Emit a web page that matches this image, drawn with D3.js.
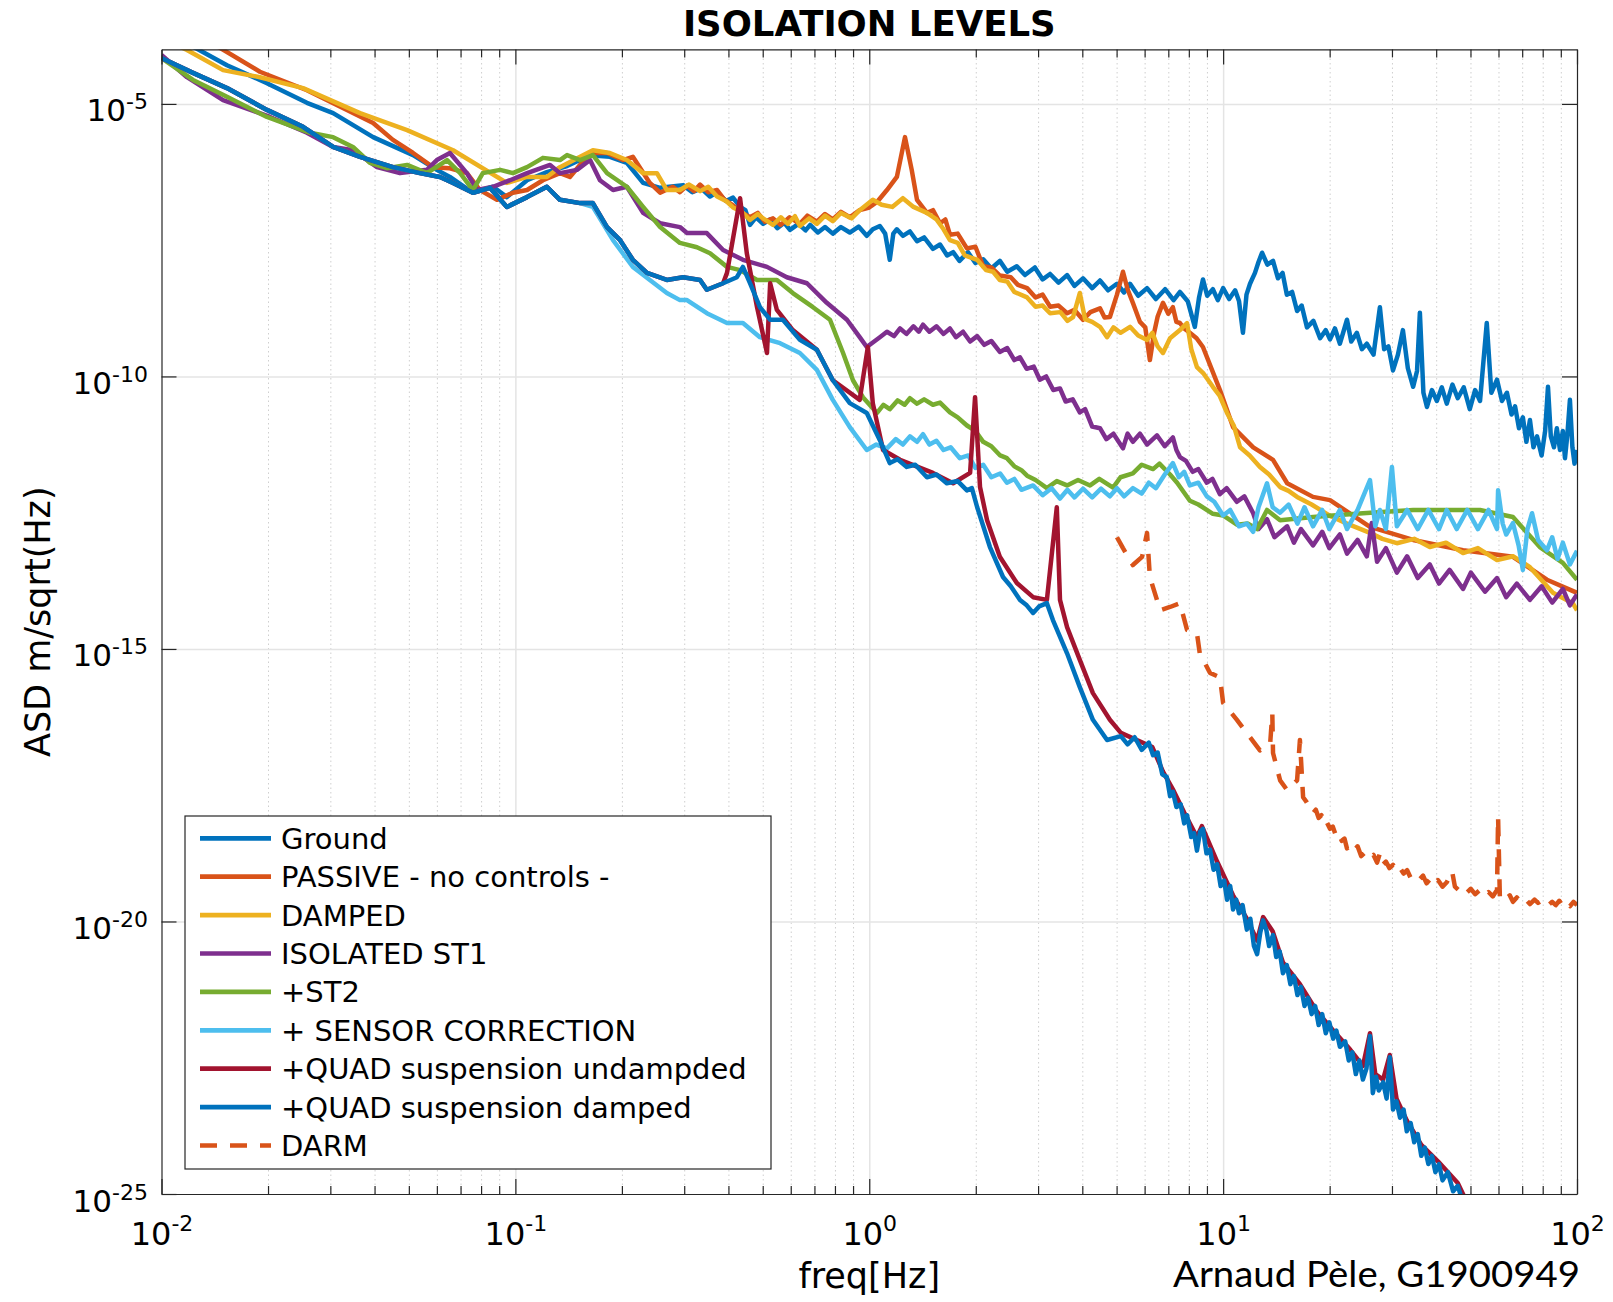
<!DOCTYPE html>
<html>
<head>
<meta charset="utf-8">
<script src="https://cdn.jsdelivr.net/npm/d3@7"></script>
<style>
  body { margin: 0; background: #fff; }
  svg { display: block; }
  text { font-family: "DejaVu Sans", sans-serif; fill: #000; }
</style>
</head>
<body>
<div id="chart"></div>
<script>
// every point is [log10 f (Hz), log10 ASD (m/sqrt(Hz))]

const ground = [
  [-2.0,-3.64],[-1.905,-3.97],[-1.815,-4.29],[-1.702,-4.62],[-1.589,-4.98],[-1.515,-5.17],[-1.402,-5.61],
  [-1.289,-5.94],[-1.222,-6.21],[-1.185,-6.34],[-1.120,-6.63],[-1.063,-6.52],[-1.024,-6.71],[-0.967,-6.40],
  [-0.911,-6.25],[-0.854,-6.14],[-0.789,-5.94],[-0.733,-5.97],[-0.685,-6.08],[-0.639,-6.45],[-0.591,-6.54],
  [-0.526,-6.49],[-0.50,-6.62],[-0.475,-6.55],[-0.45,-6.70],[-0.43,-6.62],[-0.405,-6.78],[-0.385,-6.72],
  [-0.365,-6.89],[-0.35,-6.95],[-0.337,-7.22],[-0.32,-7.08],[-0.30,-7.20],[-0.28,-7.12],[-0.26,-7.28],
  [-0.24,-7.18],[-0.224,-7.31],[-0.20,-7.20],[-0.18,-7.32],[-0.167,-7.22],[-0.145,-7.36],[-0.125,-7.26],
  [-0.103,-7.38],[-0.08,-7.26],[-0.055,-7.36],[-0.03,-7.25],[-0.007,-7.42],[0.01,-7.30],[0.030,-7.24],
  [0.045,-7.38],[0.058,-7.86],[0.068,-7.38],[0.078,-7.30],[0.095,-7.42],[0.115,-7.34],[0.135,-7.52],
  [0.155,-7.45],[0.180,-7.66],[0.20,-7.58],[0.22,-7.78],[0.237,-7.72],[0.255,-7.88],[0.279,-7.72],
  [0.30,-7.92],[0.322,-7.85],[0.345,-8.02],[0.369,-7.88],[0.39,-8.08],[0.417,-7.98],[0.44,-8.14],
  [0.468,-8.00],[0.49,-8.22],[0.511,-8.12],[0.535,-8.28],[0.559,-8.14],[0.58,-8.34],[0.604,-8.20],
  [0.63,-8.38],[0.652,-8.24],[0.675,-8.42],[0.700,-8.30],[0.72,-8.46],[0.737,-8.30],[0.76,-8.52],
  [0.785,-8.38],[0.81,-8.58],[0.836,-8.40],[0.86,-8.60],[0.878,-8.45],[0.90,-8.62],[0.920,-9.09],
  [0.932,-8.55],[0.943,-8.22],[0.955,-8.52],[0.971,-8.40],[0.985,-8.60],[1.0,-8.38],[1.017,-8.58],
  [1.034,-8.42],[1.045,-8.62],[1.056,-9.20],[1.066,-8.50],[1.076,-8.30],[1.09,-8.10],[1.100,-7.90],
  [1.110,-7.73],[1.125,-7.95],[1.141,-7.88],[1.155,-8.20],[1.168,-8.10],[1.180,-8.50],[1.195,-8.45],
  [1.209,-8.80],[1.222,-8.70],[1.237,-9.10],[1.255,-8.98],[1.274,-9.30],[1.29,-9.15],[1.302,-9.32],
  [1.316,-9.12],[1.330,-9.40],[1.350,-8.96],[1.362,-9.36],[1.378,-9.20],[1.392,-9.50],[1.406,-9.40],
  [1.425,-9.60],[1.443,-8.73],[1.455,-9.50],[1.467,-9.45],[1.480,-9.89],[1.494,-9.60],[1.508,-9.15],
  [1.522,-9.85],[1.537,-10.19],[1.548,-9.90],[1.556,-8.83],[1.566,-10.30],[1.576,-10.56],[1.59,-10.25],
  [1.604,-10.45],[1.618,-10.20],[1.632,-10.50],[1.648,-10.15],[1.663,-10.40],[1.68,-10.20],[1.697,-10.60],
  [1.712,-10.25],[1.726,-10.45],[1.745,-9.02],[1.758,-10.30],[1.774,-10.06],[1.788,-10.45],[1.802,-10.30],
  [1.815,-10.70],[1.825,-10.55],[1.836,-10.95],[1.847,-10.75],[1.857,-11.20],[1.867,-10.80],[1.877,-11.30],
  [1.887,-11.10],[1.900,-11.45],[1.910,-11.00],[1.918,-10.19],[1.926,-11.10],[1.935,-11.30],[1.943,-10.95],
  [1.952,-11.35],[1.960,-11.00],[1.966,-11.50],[1.973,-11.05],[1.980,-10.43],[1.987,-11.30],[1.993,-11.60],
  [2.0,-11.35]
];

const passive = [
  [-2.0,-3.50],[-1.835,-3.97],[-1.722,-4.41],[-1.589,-4.75],[-1.476,-5.11],[-1.402,-5.35],[-1.346,-5.66],
  [-1.289,-5.90],[-1.233,-6.16],[-1.185,-6.18],[-1.137,-6.27],[-1.100,-6.58],[-1.052,-6.76],[-1.007,-6.63],
  [-0.967,-6.58],[-0.922,-6.40],[-0.874,-6.27],[-0.846,-6.34],[-0.789,-5.90],[-0.741,-5.90],[-0.696,-6.03],
  [-0.668,-5.97],[-0.620,-6.45],[-0.591,-6.63],[-0.555,-6.52],[-0.535,-6.62],[-0.515,-6.50],[-0.495,-6.60],
  [-0.478,-6.48],[-0.455,-6.62],[-0.430,-6.58],[-0.41,-6.75],[-0.385,-6.86],[-0.365,-6.98],[-0.337,-7.08],
  [-0.315,-7.00],[-0.295,-7.16],[-0.272,-7.10],[-0.25,-7.22],[-0.225,-7.08],[-0.196,-7.20],[-0.175,-7.05],
  [-0.148,-7.16],[-0.125,-7.02],[-0.103,-7.12],[-0.08,-6.98],[-0.055,-7.08],[-0.027,-6.95],[0.0,-6.90],
  [0.022,-6.80],[0.050,-6.58],[0.078,-6.34],[0.101,-5.61],[0.120,-6.21],[0.135,-6.76],[0.163,-7.00],
  [0.18,-6.95],[0.200,-7.19],[0.215,-7.12],[0.228,-7.40],[0.25,-7.38],[0.276,-7.65],[0.30,-7.62],
  [0.322,-7.98],[0.345,-8.00],[0.369,-8.15],[0.40,-8.18],[0.42,-8.32],[0.446,-8.38],[0.47,-8.55],
  [0.49,-8.50],[0.511,-8.72],[0.535,-8.70],[0.559,-8.84],[0.58,-8.78],[0.604,-8.96],[0.625,-8.82],
  [0.652,-8.75],[0.665,-8.92],[0.680,-8.91],[0.70,-8.50],[0.717,-8.08],[0.73,-8.40],[0.745,-8.65],
  [0.765,-9.00],[0.78,-9.10],[0.793,-9.70],[0.805,-9.20],[0.815,-8.90],[0.830,-8.65],[0.845,-8.85],
  [0.858,-8.73],[0.868,-9.00],[0.878,-9.02],[0.89,-9.12],[0.906,-9.20],[0.925,-9.30],[0.943,-9.46],
  [0.991,-10.25],[1.028,-10.93],[1.085,-11.30],[1.141,-11.53],[1.181,-11.96],[1.254,-12.21],[1.302,-12.27],
  [1.415,-12.76],[1.537,-13.00],[1.678,-13.19],[1.819,-13.31],[1.915,-13.73],[2.0,-13.97]
];

const damped = [
  [-2.0,-3.79],[-1.928,-4.01],[-1.826,-4.38],[-1.722,-4.51],[-1.600,-4.71],[-1.439,-5.17],[-1.306,-5.48],
  [-1.176,-5.85],[-1.024,-6.45],[-0.967,-6.34],[-0.911,-6.34],[-0.874,-6.16],[-0.817,-5.97],[-0.781,-5.85],
  [-0.733,-5.90],[-0.685,-6.03],[-0.639,-6.27],[-0.600,-6.27],[-0.572,-6.58],[-0.535,-6.58],[-0.51,-6.48],
  [-0.478,-6.60],[-0.455,-6.52],[-0.430,-6.70],[-0.405,-6.78],[-0.385,-6.90],[-0.36,-6.98],[-0.337,-7.13],
  [-0.315,-7.02],[-0.300,-7.10],[-0.272,-7.22],[-0.25,-7.08],[-0.230,-7.20],[-0.21,-7.06],[-0.196,-7.24],
  [-0.17,-7.10],[-0.148,-7.20],[-0.125,-7.05],[-0.103,-7.15],[-0.08,-7.00],[-0.050,-7.10],[-0.027,-6.95],
  [0.010,-6.76],[0.035,-6.85],[0.065,-6.89],[0.095,-6.73],[0.125,-6.89],[0.163,-7.00],[0.19,-7.12],
  [0.21,-7.30],[0.228,-7.50],[0.25,-7.55],[0.27,-7.78],[0.305,-7.86],[0.33,-8.05],[0.35,-8.08],
  [0.369,-8.23],[0.39,-8.26],[0.41,-8.45],[0.446,-8.55],[0.47,-8.72],[0.49,-8.70],[0.511,-8.84],
  [0.54,-8.82],[0.56,-8.98],[0.576,-8.91],[0.595,-8.47],[0.61,-8.95],[0.63,-9.00],[0.652,-9.09],
  [0.672,-9.28],[0.69,-9.10],[0.71,-9.20],[0.737,-9.09],[0.76,-9.25],[0.785,-9.33],[0.80,-9.20],
  [0.815,-9.45],[0.830,-9.57],[0.85,-9.30],[0.878,-9.15],[0.898,-9.02],[0.91,-9.50],[0.926,-9.83],
  [0.945,-9.95],[0.971,-10.19],[0.99,-10.35],[1.011,-10.67],[1.03,-10.90],[1.048,-11.30],[1.075,-11.45],
  [1.104,-11.66],[1.13,-11.80],[1.161,-12.03],[1.185,-12.10],[1.209,-12.21],[1.25,-12.35],[1.300,-12.55],
  [1.35,-12.70],[1.415,-12.87],[1.45,-12.98],[1.491,-13.06],[1.54,-12.98],[1.584,-13.13],[1.63,-13.05],
  [1.678,-13.24],[1.72,-13.15],[1.774,-13.37],[1.82,-13.30],[1.867,-13.50],[1.932,-13.97],[1.988,-14.16],
  [2.0,-14.29]
];

const isolated = [
  [-2.0,-4.10],[-1.928,-4.51],[-1.826,-4.93],[-1.693,-5.24],[-1.589,-5.53],[-1.515,-5.79],[-1.459,-5.85],
  [-1.391,-6.16],[-1.326,-6.27],[-1.250,-6.21],[-1.222,-6.03],[-1.185,-5.90],[-1.137,-6.27],[-1.108,-6.58],
  [-1.063,-6.52],[-1.015,-6.40],[-0.967,-6.27],[-0.902,-6.12],[-0.874,-6.27],[-0.826,-6.21],[-0.789,-6.03],
  [-0.761,-6.40],[-0.724,-6.58],[-0.685,-6.52],[-0.639,-7.00],[-0.591,-7.19],[-0.535,-7.26],[-0.515,-7.37],
  [-0.459,-7.37],[-0.413,-7.68],[-0.357,-7.86],[-0.289,-7.99],[-0.233,-8.18],[-0.176,-8.29],[-0.120,-8.65],
  [-0.063,-8.96],[-0.027,-9.28],[-0.007,-9.46],[0.030,-9.28],[0.05,-9.18],[0.07,-9.26],[0.087,-9.12],
  [0.105,-9.22],[0.125,-9.08],[0.14,-9.18],[0.152,-9.05],[0.17,-9.18],[0.19,-9.08],[0.21,-9.22],
  [0.228,-9.12],[0.245,-9.28],[0.265,-9.18],[0.285,-9.36],[0.305,-9.26],[0.325,-9.42],[0.345,-9.35],
  [0.369,-9.55],[0.39,-9.48],[0.41,-9.70],[0.426,-9.65],[0.445,-9.86],[0.465,-9.82],[0.482,-10.06],
  [0.50,-10.00],[0.52,-10.25],[0.539,-10.22],[0.555,-10.46],[0.575,-10.42],[0.595,-10.66],[0.61,-10.60],
  [0.63,-10.92],[0.652,-10.95],[0.67,-11.15],[0.69,-11.05],[0.717,-11.32],[0.73,-11.05],[0.745,-11.20],
  [0.765,-11.05],[0.785,-11.25],[0.813,-11.08],[0.835,-11.28],[0.858,-11.12],[0.868,-11.35],[0.878,-11.48],
  [0.895,-11.55],[0.914,-11.75],[0.93,-11.70],[0.954,-11.95],[0.97,-11.88],[0.991,-12.16],[1.01,-12.05],
  [1.039,-12.30],[1.06,-12.20],[1.085,-12.51],[1.10,-12.80],[1.124,-12.62],[1.145,-12.95],[1.181,-12.75],
  [1.20,-13.05],[1.22,-12.80],[1.254,-13.10],[1.28,-12.85],[1.30,-13.15],[1.33,-12.90],[1.350,-13.25],
  [1.38,-13.00],[1.406,-13.30],[1.420,-12.69],[1.435,-13.40],[1.46,-13.15],[1.491,-13.60],[1.52,-13.30],
  [1.55,-13.70],[1.584,-13.45],[1.61,-13.80],[1.64,-13.55],[1.678,-13.90],[1.70,-13.60],[1.74,-13.95],
  [1.774,-13.70],[1.80,-14.05],[1.83,-13.80],[1.867,-14.10],[1.90,-13.85],[1.93,-14.15],[1.960,-13.90],
  [1.98,-14.20],[2.0,-14.0]
];

const st2 = [
  [-2.0,-4.16],[-1.911,-4.56],[-1.815,-4.87],[-1.702,-5.24],[-1.580,-5.53],[-1.515,-5.61],[-1.459,-5.79],
  [-1.411,-6.08],[-1.363,-6.18],[-1.306,-6.12],[-1.250,-6.27],[-1.193,-6.03],[-1.156,-6.27],[-1.120,-6.58],
  [-1.092,-6.27],[-1.043,-6.21],[-1.007,-6.27],[-0.967,-6.16],[-0.922,-5.99],[-0.874,-6.03],[-0.854,-5.94],
  [-0.817,-6.03],[-0.781,-5.94],[-0.741,-6.27],[-0.685,-6.52],[-0.639,-6.89],[-0.591,-7.26],[-0.535,-7.55],
  [-0.487,-7.63],[-0.450,-7.74],[-0.402,-7.99],[-0.365,-8.05],[-0.317,-8.23],[-0.261,-8.23],[-0.216,-8.47],
  [-0.159,-8.73],[-0.111,-8.96],[-0.074,-9.57],[-0.046,-10.07],[-0.018,-10.38],[0.022,-10.67],[0.04,-10.52],
  [0.058,-10.60],[0.08,-10.44],[0.10,-10.52],[0.115,-10.40],[0.135,-10.50],[0.155,-10.42],[0.180,-10.52],
  [0.20,-10.48],[0.228,-10.66],[0.25,-10.75],[0.276,-10.90],[0.30,-11.00],[0.322,-11.20],[0.345,-11.28],
  [0.37,-11.45],[0.389,-11.50],[0.41,-11.65],[0.43,-11.72],[0.446,-11.82],[0.47,-11.90],[0.502,-12.05],
  [0.53,-11.92],[0.559,-12.00],[0.59,-11.90],[0.624,-12.00],[0.65,-11.88],[0.689,-12.04],[0.71,-11.85],
  [0.745,-11.78],[0.77,-11.62],[0.802,-11.70],[0.82,-11.60],[0.850,-11.80],[0.87,-11.95],[0.906,-12.28],
  [0.93,-12.35],[0.971,-12.52],[1.00,-12.55],[1.039,-12.72],[1.07,-12.70],[1.096,-12.80],[1.124,-12.45],
  [1.161,-12.64],[1.254,-12.58],[1.395,-12.51],[1.537,-12.45],[1.726,-12.45],[1.819,-12.58],[1.895,-13.13],
  [1.960,-13.42],[2.0,-13.73]
];

const sensor = [
  [-2.0,-4.16],[-1.911,-4.43],[-1.815,-4.71],[-1.702,-5.11],[-1.600,-5.42],[-1.515,-5.79],[-1.439,-5.97],
  [-1.346,-6.16],[-1.270,-6.27],[-1.213,-6.34],[-1.176,-6.45],[-1.120,-6.63],[-1.072,-6.54],[-1.024,-6.89],
  [-0.967,-6.71],[-0.911,-6.52],[-0.874,-6.76],[-0.817,-6.82],[-0.781,-6.89],[-0.724,-7.50],[-0.668,-7.99],
  [-0.620,-8.23],[-0.572,-8.47],[-0.535,-8.60],[-0.515,-8.60],[-0.459,-8.84],[-0.402,-9.02],[-0.357,-9.02],
  [-0.309,-9.28],[-0.252,-9.39],[-0.196,-9.57],[-0.148,-9.88],[-0.103,-10.43],[-0.055,-10.93],[-0.007,-11.35],
  [0.02,-11.25],[0.050,-11.32],[0.075,-11.15],[0.095,-11.25],[0.115,-11.10],[0.135,-11.20],[0.152,-11.06],
  [0.17,-11.25],[0.19,-11.18],[0.21,-11.35],[0.23,-11.30],[0.256,-11.50],[0.28,-11.45],[0.30,-11.68],
  [0.322,-11.62],[0.345,-11.85],[0.37,-11.78],[0.389,-11.95],[0.41,-11.88],[0.43,-12.08],[0.463,-12.00],
  [0.49,-12.18],[0.515,-12.05],[0.539,-12.24],[0.56,-12.08],[0.58,-12.22],[0.604,-12.06],[0.63,-12.22],
  [0.655,-12.06],[0.680,-12.20],[0.70,-12.05],[0.72,-12.20],[0.745,-12.05],[0.77,-12.15],[0.79,-11.95],
  [0.81,-12.05],[0.835,-11.80],[0.858,-11.59],[0.875,-11.85],[0.89,-11.75],[0.906,-12.00],[0.93,-11.95],
  [0.954,-12.20],[0.975,-12.30],[1.000,-12.55],[1.02,-12.45],[1.045,-12.75],[1.067,-12.70],[1.085,-12.85],
  [1.10,-12.40],[1.124,-11.96],[1.14,-12.40],[1.161,-12.50],[1.185,-12.35],[1.21,-12.70],[1.23,-12.40],
  [1.254,-12.75],[1.28,-12.45],[1.30,-12.80],[1.33,-12.45],[1.350,-12.80],[1.38,-12.45],[1.415,-11.90],
  [1.43,-12.75],[1.443,-12.45],[1.46,-12.80],[1.477,-11.66],[1.491,-12.75],[1.52,-12.45],[1.55,-12.80],
  [1.58,-12.45],[1.61,-12.80],[1.632,-12.45],[1.66,-12.80],[1.69,-12.45],[1.72,-12.80],[1.75,-12.45],
  [1.774,-12.80],[1.777,-12.09],[1.79,-12.70],[1.80,-12.90],[1.819,-12.69],[1.835,-13.10],[1.847,-13.55],
  [1.860,-12.80],[1.873,-12.51],[1.89,-13.00],[1.915,-13.19],[1.93,-12.95],[1.945,-13.35],[1.960,-13.05],
  [1.98,-13.45],[2.0,-13.2]
];

const quadUndamped = [
  [-2.0,-4.16],[-1.911,-4.43],[-1.815,-4.71],[-1.702,-5.11],[-1.600,-5.42],[-1.515,-5.79],[-1.439,-5.97],
  [-1.346,-6.16],[-1.270,-6.27],[-1.213,-6.34],[-1.176,-6.45],[-1.120,-6.63],[-1.072,-6.54],[-1.024,-6.89],
  [-0.967,-6.71],[-0.911,-6.52],[-0.874,-6.76],[-0.817,-6.82],[-0.781,-6.82],[-0.741,-7.26],[-0.704,-7.50],
  [-0.668,-7.86],[-0.628,-8.10],[-0.572,-8.23],[-0.526,-8.18],[-0.478,-8.23],[-0.459,-8.41],[-0.413,-8.29],
  [-0.402,-8.10],[-0.365,-6.73],[-0.346,-7.74],[-0.317,-8.73],[-0.289,-9.57],[-0.280,-8.29],[-0.261,-8.78],
  [-0.216,-9.15],[-0.148,-9.51],[-0.103,-10.07],[-0.027,-10.43],[-0.004,-9.46],[0.010,-10.49],[0.039,-11.35],
  [0.087,-11.53],[0.180,-11.77],[0.237,-11.96],[0.285,-11.77],[0.299,-10.38],[0.313,-12.03],[0.333,-12.64],
  [0.369,-13.31],[0.417,-13.79],[0.463,-14.05],[0.502,-14.10],[0.530,-12.40],[0.539,-14.10],[0.559,-14.60],
  [0.595,-15.20],[0.632,-15.81],[0.680,-16.30],[0.711,-16.54],[0.80,-16.80],[0.83,-17.25],[0.86,-17.60],
  [0.89,-18.00],[0.926,-18.45],[0.94,-18.25],[0.983,-18.90],[1.028,-19.52],[1.067,-19.95],[1.096,-20.35],
  [1.113,-19.92],[1.14,-20.18],[1.169,-20.75],[1.217,-21.15],[1.265,-21.65],[1.311,-22.00],[1.359,-22.35],
  [1.395,-22.65],[1.415,-22.05],[1.43,-22.80],[1.452,-22.90],[1.471,-22.45],[1.49,-23.25],[1.519,-23.65],
  [1.56,-24.10],[1.607,-24.40],[1.663,-24.80],[1.70,-25.3]
];

const quadDamped = [
  [-2.0,-4.16],[-1.911,-4.43],[-1.815,-4.71],[-1.702,-5.11],[-1.600,-5.42],[-1.515,-5.79],[-1.439,-5.97],
  [-1.346,-6.16],[-1.270,-6.27],[-1.213,-6.34],[-1.176,-6.45],[-1.120,-6.63],[-1.072,-6.54],[-1.024,-6.89],
  [-0.967,-6.71],[-0.911,-6.52],[-0.874,-6.76],[-0.817,-6.82],[-0.781,-6.82],[-0.741,-7.26],[-0.704,-7.50],
  [-0.668,-7.86],[-0.628,-8.10],[-0.572,-8.23],[-0.526,-8.18],[-0.478,-8.23],[-0.459,-8.41],[-0.413,-8.29],
  [-0.374,-8.18],[-0.357,-7.99],[-0.337,-8.29],[-0.309,-8.73],[-0.280,-8.96],[-0.244,-8.96],[-0.196,-9.33],
  [-0.148,-9.51],[-0.103,-10.07],[-0.055,-10.49],[-0.007,-10.67],[0.030,-11.17],[0.058,-11.59],[0.08,-11.52],
  [0.106,-11.66],[0.13,-11.62],[0.163,-11.85],[0.19,-11.80],[0.219,-11.96],[0.25,-11.92],[0.276,-12.09],
  [0.29,-12.05],[0.305,-12.40],[0.341,-13.13],[0.378,-13.68],[0.40,-13.85],[0.426,-14.10],[0.445,-14.20],
  [0.463,-14.34],[0.48,-14.22],[0.502,-14.16],[0.519,-14.47],[0.559,-15.08],[0.595,-15.70],[0.632,-16.30],
  [0.672,-16.67],[0.711,-16.60],[0.73,-16.75],[0.75,-16.62],[0.77,-16.85],[0.79,-16.72],[0.802,-16.95],
  [0.815,-16.90],[0.828,-17.30],[0.841,-17.35],[0.85,-17.70],[0.858,-17.62],[0.868,-17.90],[0.88,-17.85],
  [0.89,-18.20],[0.898,-18.05],[0.91,-18.45],[0.918,-18.38],[0.926,-18.70],[0.935,-18.35],[0.943,-18.30],
  [0.953,-18.75],[0.963,-18.68],[0.973,-19.05],[0.983,-18.95],[0.993,-19.35],[1.003,-19.25],[1.011,-19.60],
  [1.02,-19.35],[1.028,-19.78],[1.037,-19.60],[1.045,-19.85],[1.055,-19.70],[1.067,-20.15],[1.077,-19.95],
  [1.087,-20.45],[1.096,-20.60],[1.105,-20.20],[1.113,-19.98],[1.122,-20.15],[1.13,-20.45],[1.141,-20.25],
  [1.15,-20.65],[1.16,-20.55],[1.169,-20.95],[1.18,-20.80],[1.19,-21.15],[1.20,-21.00],[1.21,-21.35],
  [1.22,-21.20],[1.23,-21.55],[1.24,-21.40],[1.25,-21.70],[1.26,-21.55],[1.27,-21.90],[1.28,-21.70],
  [1.29,-22.05],[1.30,-21.85],[1.311,-22.15],[1.32,-22.00],[1.33,-22.30],[1.345,-22.20],[1.355,-22.55],
  [1.365,-22.40],[1.375,-22.80],[1.385,-22.55],[1.395,-22.90],[1.405,-22.70],[1.415,-22.10],[1.423,-23.15],
  [1.432,-22.85],[1.44,-23.10],[1.452,-22.95],[1.462,-23.25],[1.471,-22.49],[1.480,-23.45],[1.49,-23.30],
  [1.50,-23.60],[1.51,-23.45],[1.519,-23.85],[1.53,-23.70],[1.54,-24.05],[1.55,-23.90],[1.56,-24.30],
  [1.57,-24.15],[1.58,-24.45],[1.59,-24.30],[1.60,-24.60],[1.61,-24.45],[1.62,-24.75],[1.635,-24.60],
  [1.65,-24.95],[1.663,-24.85],[1.68,-25.20],[1.70,-25.45]
];

const darm = [
  [0.700,-12.95],[0.717,-13.15],[0.745,-13.46],[0.771,-13.31],[0.785,-12.87],[0.793,-13.68],[0.822,-14.29],
  [0.850,-14.23],[0.878,-14.16],[0.898,-14.65],[0.926,-14.71],[0.934,-15.08],[0.963,-15.44],[0.991,-15.52],
  [1.000,-15.99],[1.039,-16.30],[1.076,-16.62],[1.104,-16.86],[1.133,-16.73],[1.139,-16.18],[1.141,-16.91],
  [1.161,-17.41],[1.181,-17.59],[1.209,-17.41],[1.217,-16.67],[1.226,-17.72],[1.235,-17.80],[1.245,-17.92],
  [1.254,-18.01],[1.262,-17.95],[1.27,-18.10],[1.278,-18.05],[1.285,-18.22],[1.293,-18.18],[1.302,-18.30],
  [1.31,-18.26],[1.32,-18.45],[1.328,-18.40],[1.335,-18.52],[1.343,-18.48],[1.350,-18.66],[1.36,-18.60],
  [1.37,-18.70],[1.38,-18.62],[1.39,-18.80],[1.40,-18.74],[1.415,-18.84],[1.425,-18.78],[1.435,-18.92],
  [1.443,-18.75],[1.452,-18.95],[1.46,-18.90],[1.47,-19.02],[1.48,-18.96],[1.491,-19.08],[1.50,-19.02],
  [1.51,-19.12],[1.52,-19.06],[1.53,-19.20],[1.54,-19.14],[1.556,-19.22],[1.565,-19.16],[1.575,-19.30],
  [1.585,-19.22],[1.595,-19.32],[1.607,-19.24],[1.62,-19.36],[1.632,-19.28],[1.647,-19.08],[1.655,-19.36],
  [1.665,-19.42],[1.678,-19.36],[1.69,-19.46],[1.70,-19.40],[1.712,-19.50],[1.726,-19.42],[1.738,-19.52],
  [1.75,-19.46],[1.762,-19.54],[1.774,-19.42],[1.777,-18.08],[1.782,-19.55],[1.79,-19.50],[1.80,-19.58],
  [1.81,-19.52],[1.819,-19.64],[1.83,-19.56],[1.84,-19.64],[1.853,-19.58],[1.867,-19.68],[1.88,-19.60],
  [1.89,-19.66],[1.90,-19.62],[1.915,-19.72],[1.93,-19.64],[1.94,-19.70],[1.95,-19.62],[1.960,-19.72],
  [1.97,-19.66],[1.98,-19.72],[1.99,-19.64],[2.0,-19.70]
];

const seriesData = [ground, passive, damped, isolated, st2, sensor, quadUndamped, quadDamped, darm];
const seriesNames = ["Ground", "PASSIVE - no controls -", "DAMPED", "ISOLATED ST1", "+ST2",
  "+ SENSOR CORRECTION", "+QUAD suspension undampded", "+QUAD suspension damped", "DARM"];
const seriesColors = ["#0072BD", "#D95319", "#EDB120", "#7E2F8E", "#77AC30",
  "#4DBEEE", "#A2142F", "#0072BD", "#D95319"];
const seriesDash = [null, null, null, null, null, null, null, null, "17 13"];

const xTickExps = [-2, -1, 0, 1, 2];
const yTickExps = [-25, -20, -15, -10, -5];

// layout
const W = 1613, H = 1302;
const plot = { left: 161.5, right: 1577, top: 49.4, bottom: 1194 };

const svg = d3.select("#chart").append("svg")
  .attr("width", W).attr("height", H);

const x = d3.scaleLog().domain([1e-2, 1e2]).range([plot.left, plot.right]);
const y = d3.scaleLog().domain([1e-25, 1e-4]).range([plot.bottom, plot.top]);

const xMajor = xTickExps.map(e => Math.pow(10, e));
const yMajor = yTickExps.map(e => Math.pow(10, e));
const xMinor = [];
for (let e = -2; e < 2; e++) for (let m = 2; m <= 9; m++) xMinor.push(m * Math.pow(10, e));

const plotH = plot.bottom - plot.top;
const plotW = plot.right - plot.left;

// grid lines (behind data)
const gridMinor = svg.append("g")
  .attr("transform", `translate(0,${plot.bottom})`)
  .call(d3.axisBottom(x).tickValues(xMinor).tickSize(-plotH).tickFormat(""));
gridMinor.select(".domain").remove();
gridMinor.selectAll("line").attr("stroke", "#cfcfcf").attr("stroke-width", 1).attr("stroke-dasharray", "1.5 3");

const gridX = svg.append("g")
  .attr("transform", `translate(0,${plot.bottom})`)
  .call(d3.axisBottom(x).tickValues(xMajor.slice(1, -1)).tickSize(-plotH).tickFormat(""));
gridX.select(".domain").remove();
gridX.selectAll("line").attr("stroke", "#e4e4e4").attr("stroke-width", 1.5);

const gridY = svg.append("g")
  .attr("transform", `translate(${plot.left},0)`)
  .call(d3.axisLeft(y).tickValues(yMajor.slice(1)).tickSize(-plotW).tickFormat(""));
gridY.select(".domain").remove();
gridY.selectAll("line").attr("stroke", "#e4e4e4").attr("stroke-width", 1.5);

// data lines
svg.append("clipPath").attr("id", "clip")
  .append("rect").attr("x", plot.left).attr("y", plot.top).attr("width", plotW).attr("height", plotH);

const line = d3.line()
  .x(d => x(Math.pow(10, d[0])))
  .y(d => y(Math.pow(10, d[1])));

const gLines = svg.append("g").attr("clip-path", "url(#clip)");
seriesData.forEach((s, i) => {
  gLines.append("path")
    .datum(s)
    .attr("d", line)
    .attr("fill", "none")
    .attr("stroke", seriesColors[i])
    .attr("stroke-width", 4.5)
    .attr("stroke-linejoin", "round")
    .attr("stroke-dasharray", seriesDash[i]);
});

// axes: ticks on all four sides, pointing inward
const axisColor = "#262626";
function styleAxis(g) {
  g.select(".domain").attr("stroke", axisColor).attr("stroke-width", 1.2);
  g.selectAll(".tick line").attr("stroke", axisColor).attr("stroke-width", 1.2);
}

const xBottom = svg.append("g").attr("transform", `translate(0,${plot.bottom})`)
  .call(d3.axisBottom(x).tickValues(xMajor).tickSizeInner(-15).tickSizeOuter(0).tickFormat(""));
svg.append("g").attr("transform", `translate(0,${plot.bottom})`)
  .call(d3.axisBottom(x).tickValues(xMinor).tickSizeInner(-8).tickSizeOuter(0).tickFormat(""))
  .call(g => g.select(".domain").remove())
  .call(styleAxis);
svg.append("g").attr("transform", `translate(0,${plot.top})`)
  .call(d3.axisTop(x).tickValues(xMajor).tickSizeInner(-15).tickSizeOuter(0).tickFormat(""))
  .call(styleAxis);
svg.append("g").attr("transform", `translate(0,${plot.top})`)
  .call(d3.axisTop(x).tickValues(xMinor).tickSizeInner(-8).tickSizeOuter(0).tickFormat(""))
  .call(g => g.select(".domain").remove())
  .call(styleAxis);
const yLeft = svg.append("g").attr("transform", `translate(${plot.left},0)`)
  .call(d3.axisLeft(y).tickValues(yMajor).tickSizeInner(-15).tickSizeOuter(0).tickFormat(""));
svg.append("g").attr("transform", `translate(${plot.right},0)`)
  .call(d3.axisRight(y).tickValues(yMajor).tickSizeInner(-15).tickSizeOuter(0).tickFormat(""))
  .call(styleAxis);
styleAxis(xBottom);
styleAxis(yLeft);

// power-of-ten tick labels
function powerLabel(t, exp, supSize, rise) {
  t.text(null);
  t.append("tspan").text("10");
  t.append("tspan").attr("dy", -rise).attr("font-size", supSize).text(String(exp));
}
xBottom.selectAll(".tick text")
  .attr("y", 51).attr("dy", null)
  .attr("text-anchor", "middle")
  .attr("font-size", 32).attr("fill", "#000")
  .attr("font-family", "DejaVu Sans")
  .each(function (d) { powerLabel(d3.select(this), Math.round(Math.log10(d)), 22, 14); });
yLeft.selectAll(".tick text")
  .attr("x", -13.5).attr("y", 17).attr("dy", null)
  .attr("text-anchor", "end")
  .attr("font-size", 31).attr("fill", "#000")
  .attr("font-family", "DejaVu Sans")
  .each(function (d) { powerLabel(d3.select(this), Math.round(Math.log10(d)), 22, 12); });

// titles
svg.append("text")
  .attr("x", (plot.left + plot.right) / 2).attr("y", 36)
  .attr("text-anchor", "middle")
  .attr("font-size", 35.5).attr("font-weight", "bold")
  .text("ISOLATION LEVELS");

svg.append("text")
  .attr("x", (plot.left + plot.right) / 2).attr("y", 1288)
  .attr("text-anchor", "middle")
  .attr("font-size", 35)
  .text("freq[Hz]");

svg.append("text")
  .attr("transform", `translate(50,${(plot.top + plot.bottom) / 2}) rotate(-90)`)
  .attr("text-anchor", "middle")
  .attr("font-size", 35)
  .text("ASD m/sqrt(Hz)");

svg.append("text")
  .attr("x", 1173).attr("y", 1287)
  .attr("font-size", 37)
  .attr("textLength", 407).attr("lengthAdjust", "spacingAndGlyphs")
  .style("font-family", "Lato, 'Open Sans', sans-serif")
  .text("Arnaud Pèle, G1900949");

// legend
const legend = svg.append("g");
legend.append("rect")
  .attr("x", 185).attr("y", 816).attr("width", 586).attr("height", 353)
  .attr("fill", "#fff").attr("stroke", axisColor).attr("stroke-width", 1.2);

seriesNames.forEach((name, i) => {
  const ly = 838.3 + i * 38.4;
  legend.append("line")
    .attr("x1", 200).attr("x2", 271).attr("y1", ly).attr("y2", ly)
    .attr("stroke", seriesColors[i]).attr("stroke-width", 4.7)
    .attr("stroke-dasharray", seriesDash[i]);
  legend.append("text")
    .attr("x", 281).attr("y", ly).attr("dy", "0.36em")
    .attr("font-size", 29)
    .text(name);
});
</script>
</body>
</html>
